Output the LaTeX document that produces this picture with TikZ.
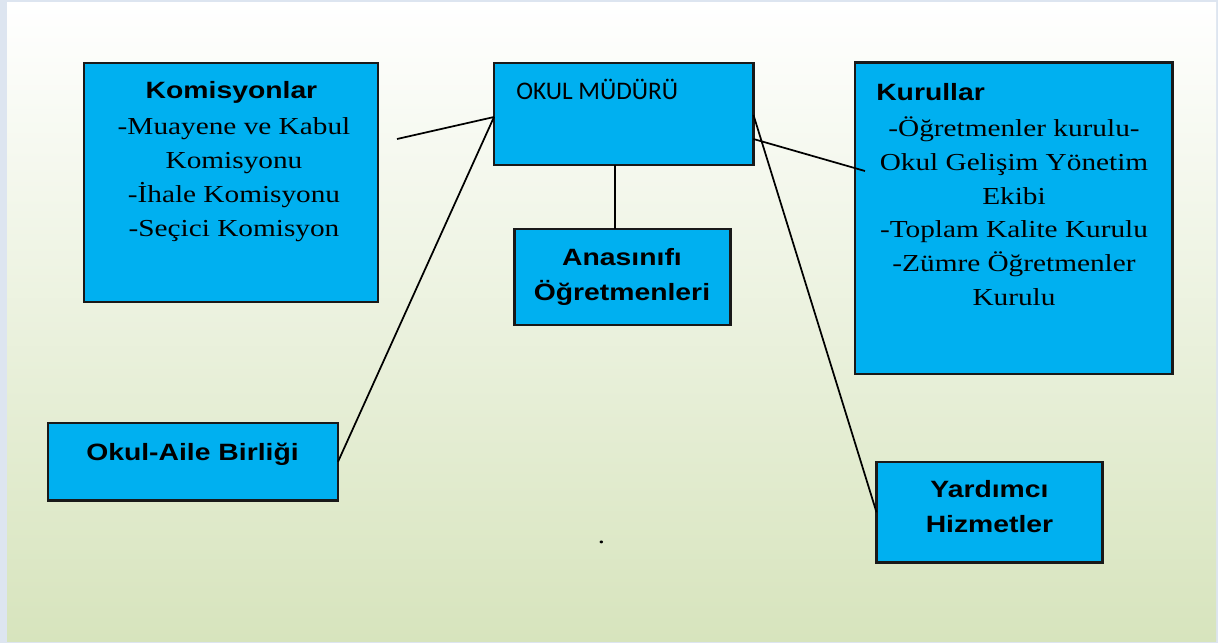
\documentclass[tikz,border=0pt]{standalone}
\usepackage{fontspec}
\usepackage{graphicx}
\setmainfont{Liberation Serif}[FakeStretch=1.2]
\newfontfamily\arialb{Liberation Sans}[FakeStretch=1.2]
\newfontfamily\calib{Carlito}
\definecolor{boxblue}{HTML}{00B0F0}
\definecolor{framecol}{HTML}{DDE5F0}
\definecolor{bggreen}{RGB}{215,228,189}
\tikzset{
  box/.style={draw=black!90, line width=1.8pt, fill=boxblue, inner sep=0pt, outer sep=0pt, anchor=north west},
  conn/.style={draw=black, line width=1.3pt},
  titletext/.style={font={\arialb\bfseries\fontsize{17.7}{26.25}\selectfont}, inner sep=0pt, align=center, anchor=base},
  bodytext/.style={font={\fontsize{18.3}{25.4}\selectfont}, inner sep=0pt, align=center, anchor=base},
}
\begin{document}
\begin{tikzpicture}[x=0.75pt,y=-0.75pt]
\useasboundingbox (0,0) rectangle (1218,643);
\fill[framecol] (0,0) rectangle (1218,643);
\shade[top color=white, bottom color=bggreen] (7,2) rectangle (1216,641);

% boxes
\node[box, minimum width=220.5pt, minimum height=179.25pt] (kom) at (84,63) {};
\node[box, minimum width=194.6pt, minimum height=76.5pt] (mud) at (494,63) {};
\node[box, minimum width=162pt, minimum height=72pt] (ana) at (514.5,229) {};
\node[box, minimum width=238.1pt, minimum height=233.6pt] (kur) at (855,62.5) {};
\node[box, minimum width=217.5pt, minimum height=58.1pt] (aile) at (48,423) {};
\node[box, minimum width=169.5pt, minimum height=75.4pt] (yard) at (876.5,462) {};

% texts (base anchor = baseline of the last line)
\node[titletext] (komt) at (231.5,98.5) {Komisyonlar};
\node[bodytext, font={\fontsize{18.3}{25.5}\selectfont}] (komb) at (234,236) {-Muayene ve Kabul\\Komisyonu\\-İhale Komisyonu\\-Seçici Komisyon};
\node[font={\calib\fontsize{19}{23}\selectfont}, inner sep=0pt, anchor=base west] (mudt) at (516,99) {OKUL MÜDÜRÜ};
\node[titletext] (anat) at (622,300) {Anasınıfı\\Öğretmenleri};
\node[titletext] (ailet) at (192.5,460) {Okul-Aile Birliği};
\node[titletext] (yardt) at (989.5,532.7) {Yardımcı\\Hizmetler};
\node[titletext, anchor=base west] (kurt) at (876,100) {Kurullar};
\node[bodytext] (kurb) at (1014,305.7) {-Öğretmenler kurulu-\\Okul Gelişim Yönetim\\Ekibi\\-Toplam Kalite Kurulu\\-Zümre Öğretmenler\\Kurulu};
\node[font={\fontsize{18}{20}\selectfont}, inner sep=0pt, anchor=base] (dot) at (601.5,543) {.};

% connectors
\coordinate (komfree) at (397,139);
\draw[conn] (komfree) -- ([yshift=-2.25pt]mud.west);
\draw[conn] (aile.east) -- ([yshift=-2.25pt]mud.west);
\draw[conn] ([xshift=-6.75pt]mud.south) -- ([xshift=-6.75pt]mud.south |- ana.north);
\coordinate (kurin) at (865,171);
\draw[conn] ([yshift=-18.75pt]mud.east) -- (kurin);
\draw[conn] ([yshift=-0.75pt]mud.east) -- (yard.west);
\end{tikzpicture}
\end{document}
